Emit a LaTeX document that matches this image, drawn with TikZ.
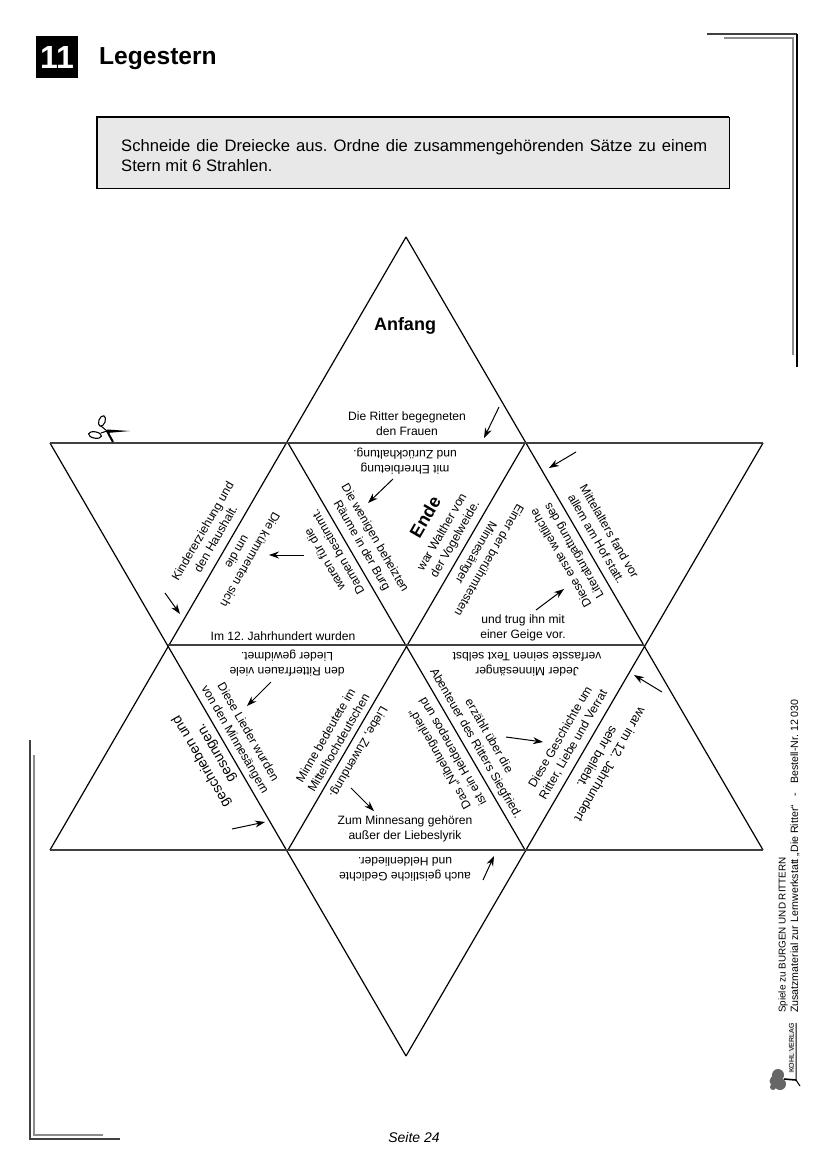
\documentclass[tikz,border=0pt]{standalone}
\usepackage{fontspec}
\setmainfont{Liberation Sans}
\usetikzlibrary{arrows.meta}
\definecolor{boxgrey}{gray}{0.91}
\definecolor{cutgrey}{gray}{0.25}
\definecolor{framegrey}{gray}{0.55}
\definecolor{treegrey}{gray}{0.4}
\tikzset{
  cut/.style={line width=1.2pt,black},
  cuth/.style={line width=1.5pt,cutgrey},
  pfeil/.style={-{Stealth[length=10pt,width=7pt]},line width=1pt,black},
  satz/.style={inner sep=0pt,align=center,font=\fontsize{12.1}{15}\selectfont},
  wort/.style={inner sep=0pt,font=\fontsize{18}{20}\selectfont\bfseries},
  foot/.style={inner sep=0pt,anchor=west,rotate=90}
}
\frenchspacing
\begin{document}
\begin{tikzpicture}[x=1pt,y=-1pt]
  \useasboundingbox (0,0) rectangle (827,1169);

  % page head
  \node[fill=black,text=white,minimum size=42pt,inner sep=0pt,font=\fontsize{32}{32}\selectfont\bfseries] (nummer) at (57,57) {11};
  \node[inner sep=0pt,anchor=west,font=\fontsize{24.6}{25}\selectfont\bfseries] (titel) at (99,59) {Legestern};
  \coordinate (boxa) at (97,117);
  \coordinate (boxb) at (729,117);
  \coordinate (boxc) at (729,189);
  \coordinate (boxd) at (97,189);
  \fill[boxgrey] (boxa) rectangle (boxc);
  \draw[line width=2.2pt] (boxd) -- (boxa) -- (boxb);
  \draw[line width=1pt] (boxb) -- (boxc) -- (boxd);
  \node[inner sep=0pt,anchor=north west,text width=586pt,align=justify,font=\fontsize{16.6}{20}\selectfont] (auftrag) at (121,139)
    {Schneide die Dreiecke aus. Ordne die zusammengehörenden Sätze zu einem Stern mit 6 Strahlen.};

  % corners of the star
  \coordinate (top) at (406,237);
  \coordinate (bot) at (406,1056);
  \coordinate (lu) at (50,443);
  \coordinate (ru) at (763,443);
  \coordinate (lo) at (50,850);
  \coordinate (ro) at (763,850);
  \coordinate (h1) at (288,443);
  \coordinate (h2) at (525,443);
  \coordinate (h3) at (644,645);
  \coordinate (h4) at (525,850);
  \coordinate (h5) at (288,850);
  \coordinate (h6) at (168,645);

  \draw[cut] (top) -- (lo);
  \draw[cut] (top) -- (ro);
  \draw[cut] (lu) -- (bot);
  \draw[cut] (ru) -- (bot);
  \draw[cut] (h1) -- (h4);
  \draw[cut] (h2) -- (h5);
  \draw[cuth] (lu) -- (ru);
  \draw[cuth] (h6) -- (h3);
  \draw[cuth,line width=2pt] (lo) -- (ro);

  % the sentences
  \node[wort] (anfang) at (405,326) {Anfang};
  \node[satz] (ritter) at (407,424) {Die Ritter begegneten\\den Frauen};
  \node[satz,rotate=180] (ehr) at (405,461) {mit Ehrerbietung\\und Zurückhaltung.};
  \node[satz,rotate=-60] (raeume) at (368,542) {Die wenigen beheizten\\Räume in der Burg};
  \node[satz,rotate=120] (damen) at (331,556) {waren für die\\Damen bestimmt.};
  \node[satz,rotate=240] (kuemmern) at (244,556) {Die kümmerten sich\\um die};
  \node[satz,rotate=60] (kinder) at (209,535) {Kindererziehung und\\den Haushalt.};
  \node[satz] (jahr) at (283,636) {Im 12. Jahrhundert wurden};
  \node[satz,rotate=180] (frauen) at (287,663) {den Ritterfrauen viele\\Lieder gewidmet.};
  \node[satz,rotate=-60] (lieder) at (241,736) {Diese Lieder wurden\\von den Minnesängern};
  \node[satz,rotate=120,font=\fontsize{14}{17}\selectfont] (gesungen) at (209,757) {geschrieben und\\gesungen.};
  \node[satz,rotate=60] (minne) at (332,739) {Minne bedeutete im\\Mittelhochdeutschen};
  \node[satz,rotate=240] (liebe) at (358,752) {Liebe, Zuwendung.};
  \node[satz] (gehoeren) at (405,829) {Zum Minnesang gehören\\außer der Liebeslyrik};
  \node[satz,rotate=180] (gedichte) at (405,869) {auch geistliche Gedichte\\und Heldenlieder.};
  \node[wort,rotate=60] (ende) at (425,517) {Ende};
  \node[satz,rotate=60] (walther) at (449,536) {war Walther von\\der Vogelweide.};
  \node[satz,rotate=240] (einer) at (482,556) {Einer der berühmtesten\\Minnesänger};
  \node[satz] (geige) at (523,628) {und trug ihn mit\\einer Geige vor.};
  \node[satz,rotate=120] (gattung) at (568,554) {Diese erste weltliche\\Literaturgattung des};
  \node[satz,rotate=-60] (mittel) at (603,535) {Mittelalters fand vor\\allem am Hof statt.};
  \node[satz,rotate=180] (jeder) at (527,664) {Jeder Minnesänger\\verfasste seinen Text selbst};
  \node[satz,rotate=60] (geschichte) at (567,741) {Diese Geschichte um\\Ritter, Liebe und Verrat};
  \node[satz,rotate=-60] (abenteuer) at (482,740) {erzählt über die\\Abenteuer des Ritters Siegfried.};
  \node[satz,rotate=120] (nibelungen) at (447,755) {Das „Nibelungenlied“\\ist ein Heldenepos und};
  \node[satz,rotate=240,font=\fontsize{12.7}{15}\selectfont] (beliebt) at (604,761) {war im 12. Jahrhundert\\sehr beliebt.};

  % arrows between the pieces
  \foreach \nr/\ax/\ay/\bx/\by in {1/499/407/484/438,2/393/479/368/503,3/304/555/269/555,4/165/593/180/614,
      5/271/682/247/706,6/232/829/265/822,7/351/788/374/811,8/483/880/494/856,
      9/536/610/564/589,10/576/452/549/468,11/506/737/543/742,12/662/692/634/675}{
    \coordinate (pa\nr) at (\ax,\ay);
    \coordinate (pb\nr) at (\bx,\by);
    \draw[pfeil] (pa\nr) -- (pb\nr);
  }

  % scissors on the first line
  \coordinate (gelenk) at (107,431);
  \coordinate (blattr) at (130,431);
  \coordinate (blatto) at (113,442);
  \draw[line width=1.1pt,rotate around={70:(102,421)}] (102,421) ellipse (5.5pt and 3.2pt);
  \draw[line width=1.1pt,rotate around={-10:(95,435)}] (95,435) ellipse (6.5pt and 3.2pt);
  \fill (gelenk) ++(0,-1.5) -- (blattr) -- (107,433) -- cycle;
  \draw[line width=2pt] (gelenk) -- (blatto);
  \draw[line width=1pt] (gelenk) -- (101,426);
  \draw[line width=1pt] (gelenk) -- (101,433);

  % frames in two corners
  \coordinate (ra) at (707,34);
  \coordinate (rb) at (797,34);
  \coordinate (rc) at (797,367);
  \coordinate (rd) at (724,38);
  \coordinate (re) at (793,38);
  \coordinate (rf) at (793,355);
  \draw[line width=1.2pt,cutgrey] (ra) -- (rb);
  \draw[line width=1.2pt,black] (rb) -- (rc);
  \draw[line width=1.4pt,framegrey] (rd) -- (re) -- (rf);
  \coordinate (la) at (30,740);
  \coordinate (lb) at (30,1139);
  \coordinate (lc) at (120,1139);
  \coordinate (ld) at (34,755);
  \coordinate (le) at (34,1135);
  \coordinate (lf) at (103,1135);
  \draw[line width=1.2pt,cutgrey] (la) -- (lb) -- (lc);
  \draw[line width=1.4pt,framegrey] (ld) -- (le) -- (lf);

  % page foot
  \node[inner sep=0pt,font=\fontsize{14}{14}\selectfont\itshape] (seite) at (414,1137) {Seite 24};
  \node[foot,font=\fontsize{9.9}{10}\selectfont] (fussa) at (783,1013) {Spiele zu BURGEN UND RITTERN};
  \node[foot,font=\fontsize{10.6}{11}\selectfont] (fussb) at (795,1013) {Zusatzmaterial zur Lernwerkstatt „Die Ritter“ \ \ - \ \ Bestell-Nr. 12 030};
  \node[inner sep=0.5pt,fill=boxgrey,rotate=90,font=\fontsize{7}{7}\selectfont] (kohl) at (791.5,1048) {KOHL VERLAG};
  \coordinate (stamma) at (796,1023);
  \coordinate (stammb) at (796,1080);
  \coordinate (stammc) at (784,1079);
  \coordinate (stammd) at (800,1086);
  \draw[line width=1pt] (stamma) -- (stammb) -- (stammd);
  \draw[line width=1.6pt] (stammb) -- (stammc);
  \fill[treegrey] (778,1075) circle (6pt) (775,1081) circle (5.5pt) (780,1084) circle (6pt) (773,1087) circle (3pt);
\end{tikzpicture}
\end{document}
